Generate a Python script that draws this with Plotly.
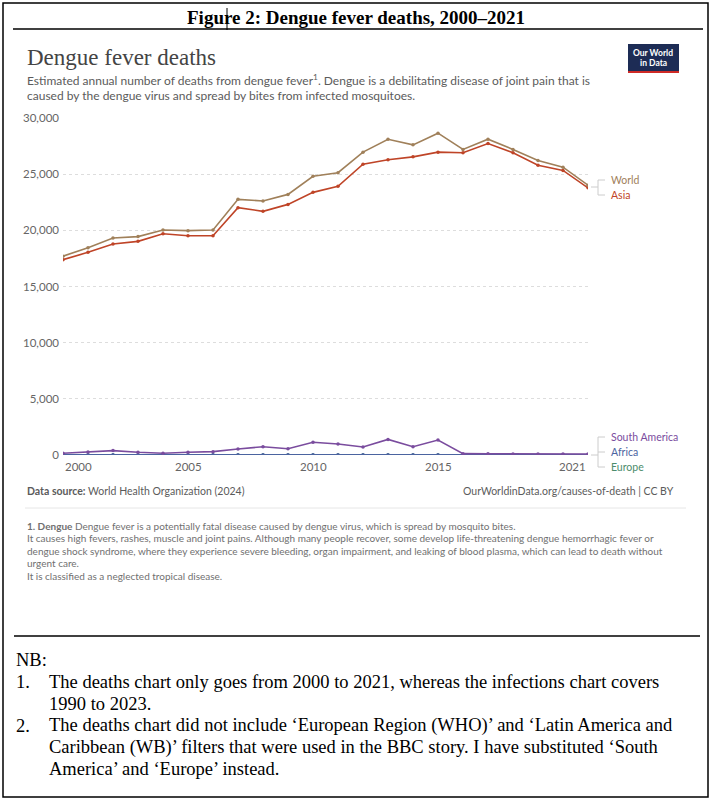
import plotly.graph_objects as go

# values (deaths per year)
years = list(range(2000, 2022))
world = [17700, 18450, 19320, 19440, 20030, 19970, 20030, 22760, 22610, 23200, 24810, 25130,
         26960, 28110, 27610, 28650, 27200, 28110, 27200, 26220, 25620, 24020]
asia = [17390, 18040, 18780, 19020, 19700, 19520, 19520, 22020, 21690, 22310, 23380, 23920,
        25890, 26280, 26540, 26960, 26900, 27730, 26900, 25800, 25330, 23780]
south_america = [150, 270, 390, 240, 150, 240, 300, 530, 740, 560, 1130, 980,
                 710, 1390, 740, 1330, 120, 110, 100, 100, 95, 90]
africa = [20, 20, 20, 20, 20, 20, 20, 20, 20, 25, 25, 25,
          25, 25, 25, 25, 25, 25, 25, 25, 25, 25]
europe = [0] * 22

series = [
    ("Europe", europe, "#4c8c6c"),
    ("Africa", africa, "#4b64a0"),
    ("South America", south_america, "#7a4c9e"),
    ("Asia", asia, "#bf4427"),
    ("World", world, "#a0805a"),
]

y_ticks = [0, 5000, 10000, 15000, 20000, 25000, 30000]
x_ticks = [2000, 2005, 2010, 2015, 2021]

W, H = 712, 800
L, R, T, B = 63, 588, 118, 455   # plot area in pixels


def px(x):
    return (x - L) / (R - L)


def py(y):
    return (B - y) / (B - T)


fig = go.Figure()
for name, vals, col in series:
    fig.add_trace(go.Scatter(x=years, y=vals, mode="lines+markers", name=name,
                             line=dict(color=col, width=1.6),
                             marker=dict(color=col, size=3.5),
                             hoverinfo="skip"))

sans = "Lato"
serif = "Liberation Serif"
ann = []


def txt(x, y, s, size, color, font=sans, anchor="left", ya="middle", **kw):
    ann.append(dict(x=px(x), y=py(y), xref="paper", yref="paper", text=s, showarrow=False,
                    xanchor=anchor, yanchor=ya, align=anchor,
                    font=dict(family=font, size=size, color=color), **kw))


# outer document titles
txt(356, 18, "<b>Figure 2: Dengue fever deaths, 2000–2021</b>", 19, "black", serif, "center")
txt(25, 57, "Dengue fever deaths", 23, "#444444", serif)
txt(25, 80, "Estimated annual number of deaths from dengue fever<sup>1</sup>. Dengue is a debilitating disease of joint pain that is",
    12, "#5b5b5b")
txt(25, 96, "caused by the dengue virus and spread by bites from infected mosquitoes.", 12, "#5b5b5b")

# x tick labels (first left aligned, last right aligned as OWID does)
for yr in x_ticks:
    anc = "left" if yr == x_ticks[0] else ("right" if yr == x_ticks[-1] else "center")
    ann.append(dict(x=yr, y=0, xref="x", yref="paper", yshift=-11, text=str(yr),
                    showarrow=False, xanchor=anc, yanchor="middle",
                    font=dict(family=sans, size=11.5, color="#666666")))

# end labels
lab_col = {n: c for n, _, c in series}
txt(609, 180, "World", 10.5, lab_col["World"])
txt(609, 195, "Asia", 10.5, lab_col["Asia"])
txt(609, 437, "South America", 10.5, lab_col["South America"])
txt(609, 452, "Africa", 10.5, lab_col["Africa"])
txt(609, 467, "Europe", 10.5, lab_col["Europe"])

txt(25, 491, "<b>Data source:</b> World Health Organization (2024)", 10.5, "#5b5b5b")
txt(676, 491, "OurWorldinData.org/causes-of-death | CC BY", 10.5, "#5b5b5b", anchor="right")

foot = [
    "<b>1. Dengue</b> Dengue fever is a potentially fatal disease caused by dengue virus, which is spread by mosquito bites.",
    "It causes high fevers, rashes, muscle and joint pains. Although many people recover, some develop life-threatening dengue hemorrhagic fever or",
    "dengue shock syndrome, where they experience severe bleeding, organ impairment, and leaking of blood plasma, which can lead to death without",
    "urgent care.",
    "It is classified as a neglected tropical disease.",
]
for i, line in enumerate(foot):
    txt(25, 526 + i * 12.4, line, 10, "#707070")

# NB notes
txt(14, 660, "NB:", 18.5, "black", serif)
nb = [
    ("1.", ["The deaths chart only goes from 2000 to 2021, whereas the infections chart covers",
            "1990 to 2023."]),
    ("2.", ["The deaths chart did not include ‘European Region (WHO)’ and ‘Latin America and",
            "Caribbean (WB)’ filters that were used in the BBC story. I have substituted ‘South",
            "America’ and ‘Europe’ instead."]),
]
yy = 682
for num, lines in nb:
    txt(14, yy, num, 18.5, "black", serif)
    for line in lines:
        txt(47, yy, line, 18.5, "black", serif)
        yy += 21.8

txt(653, 53, "<b>Our World</b>", 8.5, "white", anchor="center")
txt(653, 63, "<b>in Data</b>", 8.5, "white", anchor="center")

shapes = []


def seg(x0, y0, x1, y1, color, width=1):
    shapes.append(dict(type="line", xref="paper", yref="paper", x0=px(x0), y0=py(y0),
                       x1=px(x1), y1=py(y1), line=dict(color=color, width=width)))


# frame and rules
shapes.append(dict(type="rect", xref="paper", yref="paper", x0=px(3), y0=py(3), x1=px(708), y1=py(797),
                   line=dict(color="black", width=1.5)))
seg(13, 29, 703, 29, "black", 1.3)
seg(227, 8, 227, 30, "black", 1)
seg(14, 636, 700, 636, "black", 1.3)
seg(25, 508, 686, 508, "#e6e6e6", 1)

# logo
shapes.append(dict(type="rect", xref="paper", yref="paper", x0=px(628), y0=py(44), x1=px(679), y1=py(71),
                   fillcolor="#1d2c55", line=dict(width=0)))
shapes.append(dict(type="rect", xref="paper", yref="paper", x0=px(628), y0=py(71), x1=px(679), y1=py(73),
                   fillcolor="#cf2a26", line=dict(width=0)))

# label connectors
g = "#cccccc"
seg(591, 187, 598, 187, g)
seg(598, 180, 598, 195, g)
seg(598, 180, 605, 180, g)
seg(598, 195, 605, 195, g)
seg(591, 455, 598, 455, g)
seg(598, 437, 598, 467, g)
for yv in (437, 452, 467):
    seg(598, yv, 605, yv, g)

fig.update_layout(
    width=W, height=H,
    margin=dict(l=L, r=W - R, t=T, b=H - B),
    paper_bgcolor="white", plot_bgcolor="white",
    showlegend=False,
    annotations=ann, shapes=shapes,
    xaxis=dict(range=[2000, 2021], showgrid=False, zeroline=False, showticklabels=False,
               showline=False, fixedrange=True),
    yaxis=dict(range=[0, 30000], tickvals=y_ticks, ticktext=[f"{v:,}" for v in y_ticks],
               showgrid=True, gridcolor="#dddddd", griddash="3px,3px", gridwidth=1,
               zeroline=False, showline=False, ticklabelstandoff=3,
               tickfont=dict(family=sans, size=11.5, color="#666666")),
)

# page has a default 8px body margin; drop it so the figure fills the window
fig.write_html("out.html", config={"displayModeBar": False},
               post_script="document.body.style.margin='0';")
